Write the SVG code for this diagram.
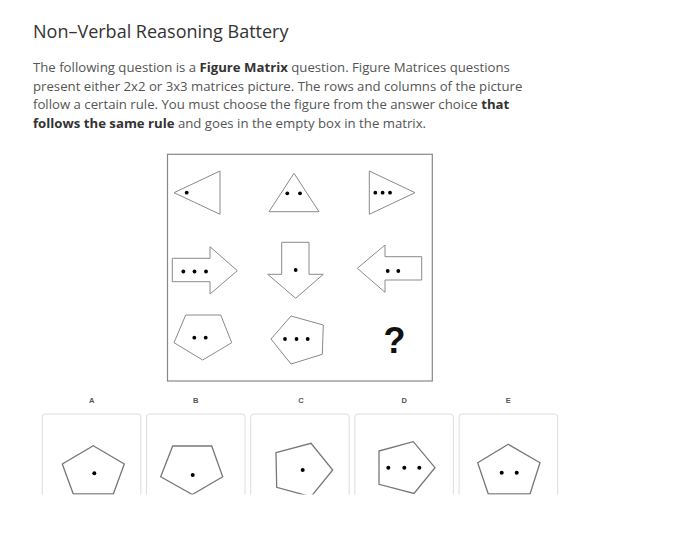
<svg xmlns="http://www.w3.org/2000/svg" width="685" height="560" viewBox="0 0 685 560">
<defs>
<style>
.title{font-family:"Open Sans","Liberation Sans",sans-serif;font-size:18px;fill:#333}
.body{font-family:"Open Sans","Liberation Sans",sans-serif;font-size:13.2px;fill:#555}
.b{font-weight:bold;fill:#333}
.lbl{font-family:"Liberation Sans",Arial,sans-serif;font-size:7.5px;font-weight:bold;fill:#555;text-anchor:middle}
.fig{fill:#fff;stroke:#8a8a8a;stroke-width:1}
.ans{fill:#fff;stroke:#777;stroke-width:1.3}
.card{fill:#fff;stroke:#ddd;stroke-width:1}
.dot{fill:#000}
</style>
<clipPath id="cut"><rect x="0" y="0" width="685" height="494.5"/></clipPath>
</defs>
<rect width="685" height="560" fill="#fff"/>
<g id="header">
<text class="title" x="33" y="38">Non–Verbal Reasoning Battery</text>
<text class="body" x="33" y="72">The following question is a <tspan class="b">Figure Matrix</tspan> question. Figure Matrices questions</text>
<text class="body" x="33" y="90.7">present either 2x2 or 3x3 matrices picture. The rows and columns of the picture</text>
<text class="body" x="33" y="109.4">follow a certain rule. You must choose the figure from the answer choice <tspan class="b">that</tspan></text>
<text class="body" x="33" y="128"><tspan class="b">follows the same rule</tspan> and goes in the empty box in the matrix.</text>
</g>
<g id="matrix">
<rect x="167.5" y="154.3" width="264.8" height="226.7" fill="#fff" stroke="#888" stroke-width="1.2"/>
<g id="r1c1"><polygon class="fig" points="174,192.7 220,171 220,214.3"/><circle class="dot" cx="186.7" cy="192.7" r="1.9"/></g>
<g id="r1c2"><polygon class="fig" points="294,173.3 319,211.7 269,211.7"/><circle class="dot" cx="287.3" cy="193.3" r="1.9"/><circle class="dot" cx="300" cy="193.3" r="1.9"/></g>
<g id="r1c3"><polygon class="fig" points="369.3,171 415,192.7 369.3,214.3"/><circle class="dot" cx="375.3" cy="192.7" r="1.9"/><circle class="dot" cx="382.6" cy="192.7" r="1.9"/><circle class="dot" cx="390" cy="192.7" r="1.9"/></g>
<g id="r2c1"><polygon class="fig" points="172.3,258.3 210,258.3 210,246.7 237.3,270.7 210,294 210,281.7 172.3,281.7"/><circle class="dot" cx="183.3" cy="271.5" r="1.9"/><circle class="dot" cx="194.5" cy="271.5" r="1.9"/><circle class="dot" cx="206" cy="271.5" r="1.9"/></g>
<g id="r2c2"><polygon class="fig" points="281.7,242.3 309,242.3 309,274.3 323.3,274.3 295.7,298.3 267.7,274.3 281.7,274.3"/><circle class="dot" cx="295.7" cy="270" r="1.9"/></g>
<g id="r2c3"><polygon class="fig" points="357.3,268.3 385,245 385,256.7 421.7,256.7 421.7,280 385,280 385,292.3"/><circle class="dot" cx="387.7" cy="271" r="1.9"/><circle class="dot" cx="398.3" cy="271" r="1.9"/></g>
<g id="r3c1"><polygon class="fig" points="185.7,315 220.7,315 231.7,342.7 202.7,360 174,342.7"/><circle class="dot" cx="194.3" cy="337.7" r="1.9"/><circle class="dot" cx="205.7" cy="337.7" r="1.9"/></g>
<g id="r3c2"><polygon class="fig" points="271,339 291,316 323.3,325 322.3,354.3 291,364"/><circle class="dot" cx="285" cy="339" r="1.9"/><circle class="dot" cx="296.5" cy="339" r="1.9"/><circle class="dot" cx="307.7" cy="339" r="1.9"/></g>
<g id="r3c3"><text x="394.5" y="353" font-family="'Liberation Sans',Arial,sans-serif" font-weight="bold" font-size="36" text-anchor="middle" fill="#111">?</text></g>
</g>
<g id="answers" clip-path="url(#cut)">
<g id="optA"><text class="lbl" x="91.7" y="402.7">A</text><rect class="card" x="42.3" y="414" width="98.5" height="110" rx="3"/><polygon class="ans" points="93.3,445.7 124.3,464 113.3,494 73.3,494 62.3,464"/><circle class="dot" cx="94.3" cy="473.3" r="2"/></g>
<g id="optB"><text class="lbl" x="195.7" y="402.7">B</text><rect class="card" x="146.5" y="414" width="98.5" height="110" rx="3"/><polygon class="ans" points="172.7,446 211.7,446 222.7,476.7 192.3,494.5 160.7,476.7"/><circle class="dot" cx="192.7" cy="475" r="2"/></g>
<g id="optC"><text class="lbl" x="301" y="402.7">C</text><rect class="card" x="250.7" y="414" width="98.5" height="110" rx="3"/><polygon class="ans" points="276,452.7 311,443.3 332.7,470 311,496.7 276.7,487.3"/><circle class="dot" cx="302.7" cy="470" r="2"/></g>
<g id="optD"><text class="lbl" x="404.3" y="402.7">D</text><rect class="card" x="354.9" y="414" width="98.5" height="110" rx="3"/><polygon class="ans" points="379,451 413.3,441.7 435,467.7 414,493.5 379,484.3"/><circle class="dot" cx="388.3" cy="467.7" r="2"/><circle class="dot" cx="404.3" cy="467.7" r="2"/><circle class="dot" cx="419.3" cy="467.7" r="2"/></g>
<g id="optE"><text class="lbl" x="508.3" y="402.7">E</text><rect class="card" x="459.1" y="414" width="98.5" height="110" rx="3"/><polygon class="ans" points="508.3,444.3 540,462.7 530,494 488.3,494 477.7,462.7"/><circle class="dot" cx="501.7" cy="472.7" r="2"/><circle class="dot" cx="516.7" cy="472.7" r="2"/></g>
</g>
</svg>
